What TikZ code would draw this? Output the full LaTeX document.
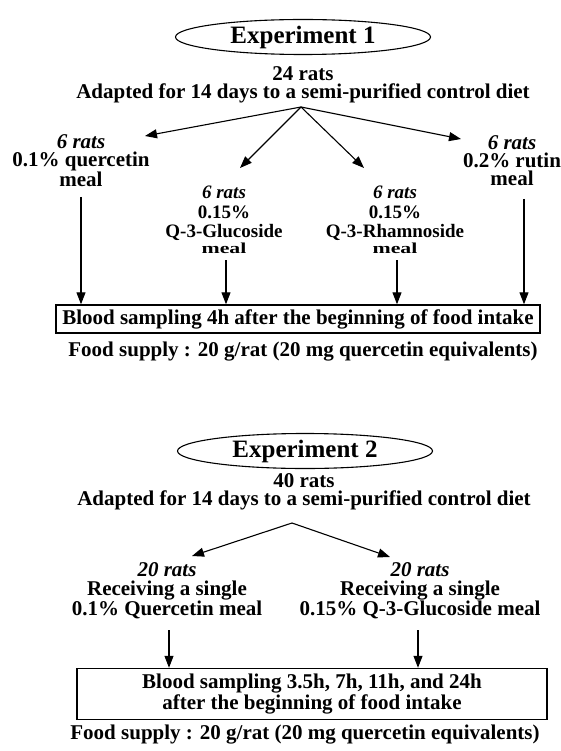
\documentclass[tikz,border=0pt]{standalone}
\usepackage{fontspec}
\setmainfont{Liberation Serif}
\usepackage{graphicx}
\usetikzlibrary{shapes.geometric,arrows.meta}
\begin{document}
\begin{tikzpicture}[x=1pt,y=-1pt,
  txt/.style={align=center,inner sep=0pt,font=\bfseries\fontsize{21}{18}\selectfont},
  grp/.style={align=center,inner sep=0pt,font=\bfseries\fontsize{21}{18}\selectfont},
  midgrp/.style={align=center,inner sep=0pt,font=\bfseries\fontsize{19}{19.5}\selectfont},
  exper/.style={draw,ellipse,line width=1.1pt,minimum width=255pt,minimum height=35pt,inner sep=0pt,font=\bfseries\fontsize{25}{25}\selectfont},
  sample/.style={draw,line width=1.4pt,inner sep=0pt,align=center,font=\bfseries\fontsize{21}{18.5}\selectfont},
  food/.style={inner sep=0pt,font=\bfseries\fontsize{21}{18}\selectfont},
  arr/.style={-{Triangle[length=12pt,width=9pt]},line width=1.1pt}
]
\useasboundingbox (0,0) rectangle (560,751);
\fill[white] (0,0) rectangle (560,751);

% ---------- Experiment 1 ----------
\node[exper] (e1) at (303,37) {Experiment 1};
\node[txt] (a1) at (303,85) {24 rats\\Adapted for 14 days to a semi-purified control diet};
\coordinate (p1) at (301,107);
\coordinate (t1) at (145,136);
\coordinate (t2) at (240,168);
\coordinate (t3) at (364,168);
\coordinate (t4) at (461,139);
\draw[arr] (p1) -- (t1);
\draw[arr] (p1) -- (t2);
\draw[arr] (p1) -- (t3);
\draw[arr] (p1) -- (t4);

\node[grp] (g1) at (81,161) {\textit{6 rats}\\0.1\% quercetin\\meal};
\node[grp] (g4) at (512,161) {\textit{6 rats}\\0.2\% rutin\\meal};
\node[midgrp,anchor=north] (g2) at (224,186) {\textit{6 rats}\\0.15\%\\Q-3-Glucoside\\[-4pt]\scalebox{1.15}[0.8]{meal}};
\node[midgrp,anchor=north] (g3) at (395,186) {\textit{6 rats}\\0.15\%\\Q-3-Rhamnoside\\[-4pt]\scalebox{1.15}[0.8]{meal}};

\node[sample,minimum width=484pt,minimum height=28pt] (b1) at (298,319) {Blood sampling 4h after the beginning of food intake};
\node[food] (f1) at (303,352) {Food supply : 20 g/rat (20 mg quercetin equivalents)};

\coordinate (v1) at (81,197);
\coordinate (v2) at (226,260);
\coordinate (v3) at (397,260);
\coordinate (v4) at (524,199);
\draw[arr] (v1) -- (v1 |- b1.north);
\draw[arr] (v2) -- (v2 |- b1.north);
\draw[arr] (v3) -- (v3 |- b1.north);
\draw[arr] (v4) -- (v4 |- b1.north);

% ---------- Experiment 2 ----------
\node[exper] (e2) at (305,451) {Experiment 2};
\node[txt] (a2) at (304,492) {40 rats\\Adapted for 14 days to a semi-purified control diet};
\coordinate (p2) at (292,523);
\coordinate (s1) at (192,556);
\coordinate (s2) at (390,557);
\draw[arr] (p2) -- (s1);
\draw[arr] (p2) -- (s2);

\node[grp,font=\bfseries\fontsize{21}{18.5}\selectfont] (h1) at (167,591) {\textit{20 rats}\\Receiving a single\\0.1\% Quercetin meal};
\node[grp,font=\bfseries\fontsize{21}{18.5}\selectfont] (h2) at (420,591) {\textit{20 rats}\\Receiving a single\\0.15\% Q-3-Glucoside meal};

\node[sample,minimum width=470pt,minimum height=51pt] (b2) at (312,694) {Blood sampling 3.5h, 7h, 11h, and 24h\\after the beginning of food intake};
\node[food] (f2) at (305,735) {Food supply : 20 g/rat (20 mg quercetin equivalents)};

\coordinate (w1) at (169,630);
\coordinate (w2) at (418,630);
\draw[arr] (w1) -- (w1 |- b2.north);
\draw[arr] (w2) -- (w2 |- b2.north);
\end{tikzpicture}
\end{document}
